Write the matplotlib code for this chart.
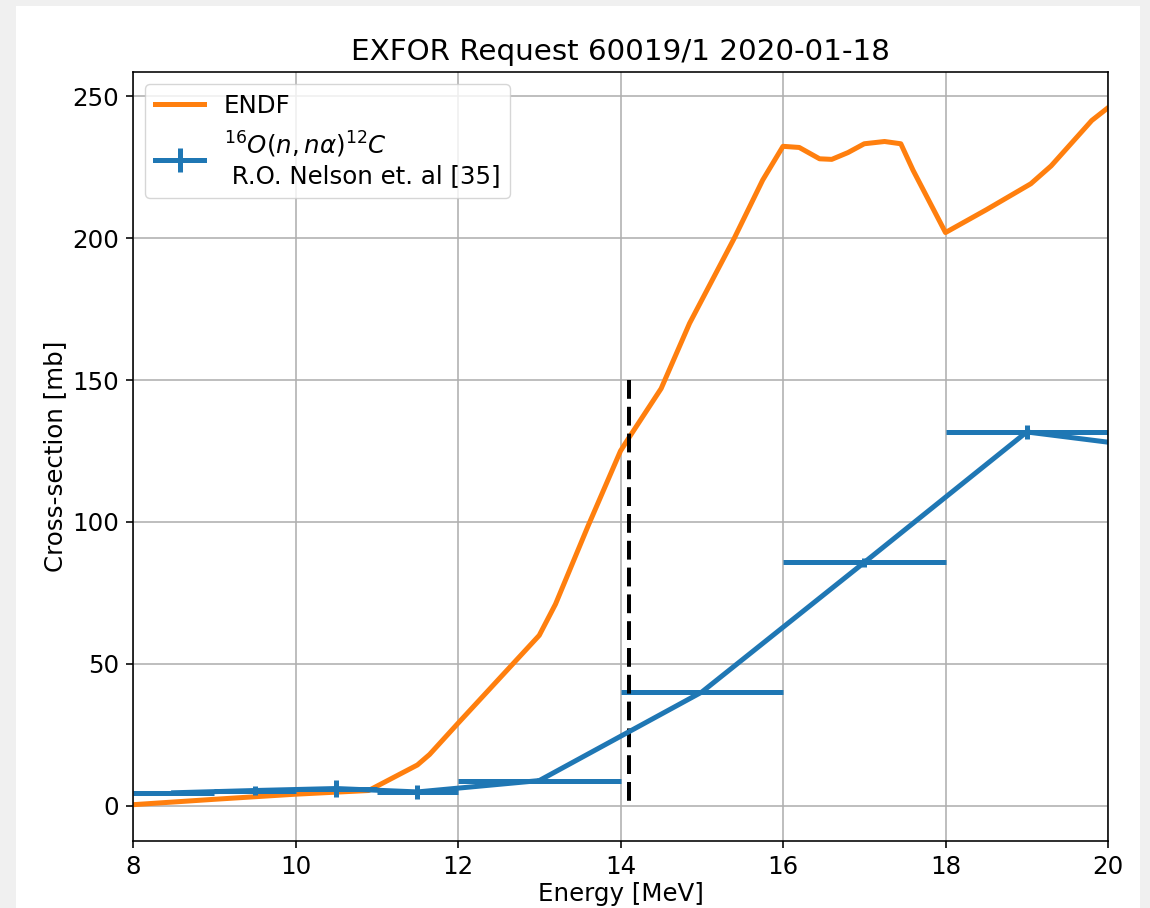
import numpy as np
import matplotlib
matplotlib.use('Agg')
import matplotlib.pyplot as plt
from matplotlib.patches import Rectangle

# ENDF evaluated cross-section
endf_energy = [8.0, 9.0, 10.0, 10.9, 11.0, 11.5, 11.65, 12.0, 13.0, 13.2, 13.6, 14.0,
               14.1, 14.5, 14.85, 15.4, 15.75, 16.0, 16.2, 16.45, 16.6, 16.8, 17.0,
               17.25, 17.45, 17.6, 18.0, 18.5, 19.05, 19.3, 19.8, 20.0]
endf_xs = [0.3, 2.2, 4.0, 5.3, 6.8, 14.3, 18.0, 29.0, 60.0, 71.0, 98.5, 125.0,
           129.5, 147.0, 170.0, 200.0, 220.5, 232.4, 232.0, 228.0, 227.8, 230.2, 233.3,
           234.1, 233.3, 224.0, 202.0, 210.0, 219.2, 225.5, 241.5, 246.0]

# EXFOR 60019/1 data points
exp_energy = [8.5, 9.5, 10.5, 11.5, 13.0, 15.0, 17.0, 19.0, 21.0]
exp_xs = [4.5, 5.3, 6.0, 4.8, 8.8, 40.0, 85.7, 131.7, 124.5]
exp_dE = [0.5, 0.5, 0.5, 0.5, 1.0, 1.0, 1.0, 1.0, 1.0]
exp_dxs = [0.4, 1.7, 2.9, 2.4, 0.8, 0.8, 1.5, 2.4, 2.0]

e_beam = 14.1

s = 1.44  # screenshot scale
fs = 12 * s * 1.02
plt.rcParams['font.size'] = fs

fig = plt.figure(figsize=(11.5, 9.08), dpi=100, facecolor='#f0f0f0')
fig.add_artist(Rectangle((16 / 1150, 0), (1140 - 16) / 1150, (908 - 6) / 908,
                         transform=fig.transFigure, facecolor='white',
                         edgecolor='none', zorder=-1))
ax = fig.add_axes([133 / 1150, 1 - 841 / 908, (1108 - 133) / 1150, (841 - 72) / 908])

ax.plot(endf_energy, endf_xs, color='#ff7f0e', lw=2.5 * s, label='ENDF')
ax.errorbar(exp_energy, exp_xs, xerr=exp_dE, yerr=exp_dxs, color='#1f77b4',
            lw=2.5 * s, label='$^{16}O(n,n\\alpha)^{12}C$\n R.O. Nelson et. al [35]')
ax.plot([e_beam, e_beam], [150, 0], color='black', lw=2.0 * s, dashes=(4.7, 2.0))

ax.set_xlim(8, 20)
ax.set_ylim(-12.5, 258.6)
ax.set_xticks(np.arange(8, 21, 2))
ax.set_yticks(np.arange(0, 251, 50))
ax.grid(True, color='#b0b0b0', lw=0.8 * s)
ax.set_axisbelow(True)
for sp in ax.spines.values():
    sp.set_linewidth(0.8 * s)
ax.tick_params(width=0.8 * s, length=3.5 * s, pad=3.5 * s)

ax.set_xlabel('Energy [MeV]', labelpad=1.5 * s)
ax.set_ylabel('Cross-section [mb]', labelpad=2.5 * s)
ax.set_title('EXFOR Request 60019/1 2020-01-18', fontsize=fs * 1.2, pad=6 * s)
ax.legend(loc='upper left')

fig.savefig('out.png', dpi=100, facecolor=fig.get_facecolor())
